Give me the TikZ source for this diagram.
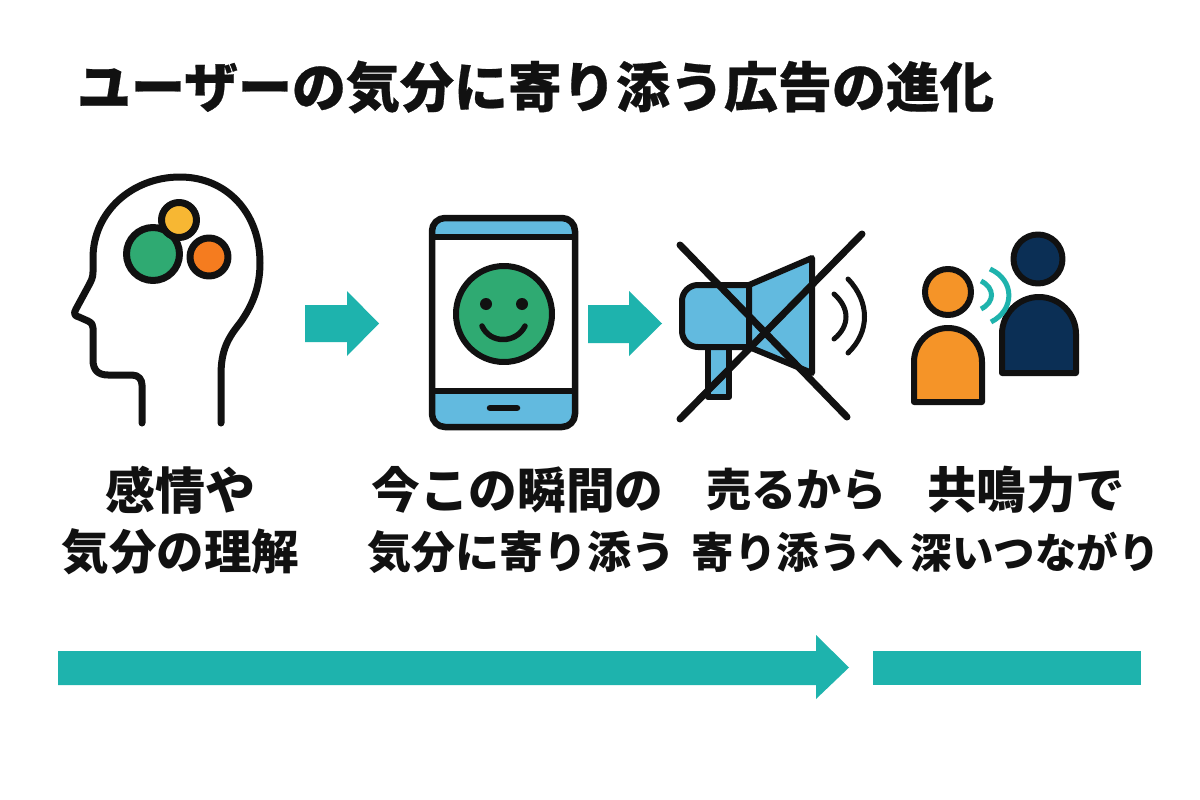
\documentclass[tikz,border=0pt]{standalone}
\usepackage{fontspec}
\newfontfamily\jp{Noto Sans CJK JP}
\definecolor{teal1}{HTML}{1EB3AD}
\definecolor{ink}{HTML}{111111}
\definecolor{grn}{HTML}{2FAA72}
\definecolor{ylw}{HTML}{F7B733}
\definecolor{org}{HTML}{F57C1F}
\definecolor{sky}{HTML}{62BADF}
\definecolor{amber}{HTML}{F59428}
\definecolor{navy}{HTML}{0B2F55}
\tikzset{
  x=1pt,y=-1pt,
  line/.style={draw=ink,line width=#1,line join=round,line cap=round},
  line/.default=7pt,
  flow/.style={fill=teal1,draw=none},
  wave/.style={draw=teal1,line width=5pt,line cap=butt},
  label/.style={align=center,font=\jp\bfseries,inner sep=0pt,text=ink},
}
\newcommand{\ls}[2]{{\fontsize{#1}{#1}\selectfont #2}}
\begin{document}
\begin{tikzpicture}
\useasboundingbox (0,0) rectangle (1200,800);
\fill[white] (0,0) rectangle (1200,800);
% title
\node[label] (title) at (535.5,87) {\fontsize{54}{54}\selectfont\addfontfeature{FakeBold=0.5}ユーザーの気分に寄り添う広告の進化};
% head
\draw[line] (221,423) -- (221,375) .. controls (221,350) and (228,338) .. (240,323)
  .. controls (252,306) and (260,288) .. (260,263)
  .. controls (260,212) and (226,177) .. (180,177)
  .. controls (132,177) and (93,212) .. (93,258) -- (93,272)
  .. controls (93,278) and (91,281) .. (89,285) -- (76,309)
  .. controls (73,314) and (75,316) .. (79,317) -- (88,321)
  .. controls (92,323) and (93,325) .. (93,328) -- (93,360)
  .. controls (93,370) and (98,375) .. (108,375) -- (132,375)
  .. controls (139,375) and (142,380) .. (142,385) -- (142,423);
\draw[line,fill=grn] (153,254) circle[radius=26.5];
\draw[line,fill=ylw] (179,220) circle[radius=17.5];
\draw[line,fill=org] (209,257) circle[radius=19];
% arrow 1
\fill[flow] (305,305) -- (347,305) -- (347,291) -- (379,323.5) -- (347,356) -- (347,342) -- (305,342) -- cycle;
% phone
\draw[draw=none,fill=sky,rounded corners=13pt] (432,218) rectangle (575,427);
\fill[white] (432,237) rectangle (575,391);
\draw[line=6.5pt,rounded corners=13pt] (432,218) rectangle (575,427);
\draw[line=6pt,line cap=butt] (432,237) -- (575,237) (432,391) -- (575,391);
\draw[line=6.5pt] (490,408) -- (517,408);
\draw[line=6pt,fill=grn] (504,314) circle[radius=48];
\fill[ink] (486,304) circle[radius=6] (522,304) circle[radius=6];
\draw[line=5.5pt] (482,326) .. controls (490,344) and (516,344) .. (525,326);
% arrow 2
\fill[flow] (588,305) -- (629,305) -- (629,291) -- (662,323.5) -- (629,356) -- (629,343) -- (588,343) -- cycle;
% megaphone
\draw[line=6pt,fill=sky] (708,347) rectangle (729,397);
\draw[line=6pt,fill=sky] (749,285) -- (812,258) -- (812,373) -- (749,347) -- cycle;
\draw[line=6pt,fill=sky,rounded corners=16pt] (749,285) -- (682,285) -- (682,347) -- (749,347);
\draw[line=6pt] (749,285) -- (749,347);
\draw[line=5pt] (834,294) .. controls (850,308) and (850,326) .. (834,339);
\draw[line=5pt] (848,279) .. controls (870,302) and (870,332) .. (848,353);
\draw[line=7pt] (680,245) -- (847,417);
\draw[line=7pt] (862,234) -- (680,419);
% people
\draw[line=6pt,fill=navy] (1002,373) -- (1002,334) arc[start angle=180,end angle=360,radius=37] -- (1076,373) -- cycle;
\draw[line=6pt,fill=navy] (1038,259) circle[radius=24.5];
\draw[wave] (981,281) .. controls (995,288) and (995,302) .. (981,309);
\draw[wave] (990,269) .. controls (1015,280) and (1015,310) .. (991,322);
\draw[line=6pt,fill=amber] (914,402) -- (914,362) arc[start angle=180,end angle=360,radius=34] -- (982,402) -- cycle;
\draw[line=6pt,fill=amber] (948,292) circle[radius=23];
% labels
\node[label] (l1a) at (180,490) {\ls{50}{感情や}};
\node[label] (l1b) at (180.5,552) {\ls{47.5}{気分の理解}};
\node[label] (l2a) at (517.5,490) {\ls{48.7}{今この瞬間の}};
\node[label] (l2b) at (521,552) {\ls{44}{気分に寄り添う}};
\node[label] (l3a) at (796.5,490) {\ls{45}{売るから}};
\node[label] (l3b) at (798,552) {\ls{42.5}{寄り添うへ}};
\node[label] (l4a) at (1026,490) {\ls{49.5}{共鳴力で}};
\node[label] (l4b) at (1035,552) {\ls{41.5}{深いつながり}};
% bottom arrows
\fill[flow] (58,651) -- (816,651) -- (816,635) -- (849,667.5) -- (816,699) -- (816,685) -- (58,685) -- cycle;
\fill[flow] (873,651) rectangle (1141,685);
\end{tikzpicture}
\end{document}
